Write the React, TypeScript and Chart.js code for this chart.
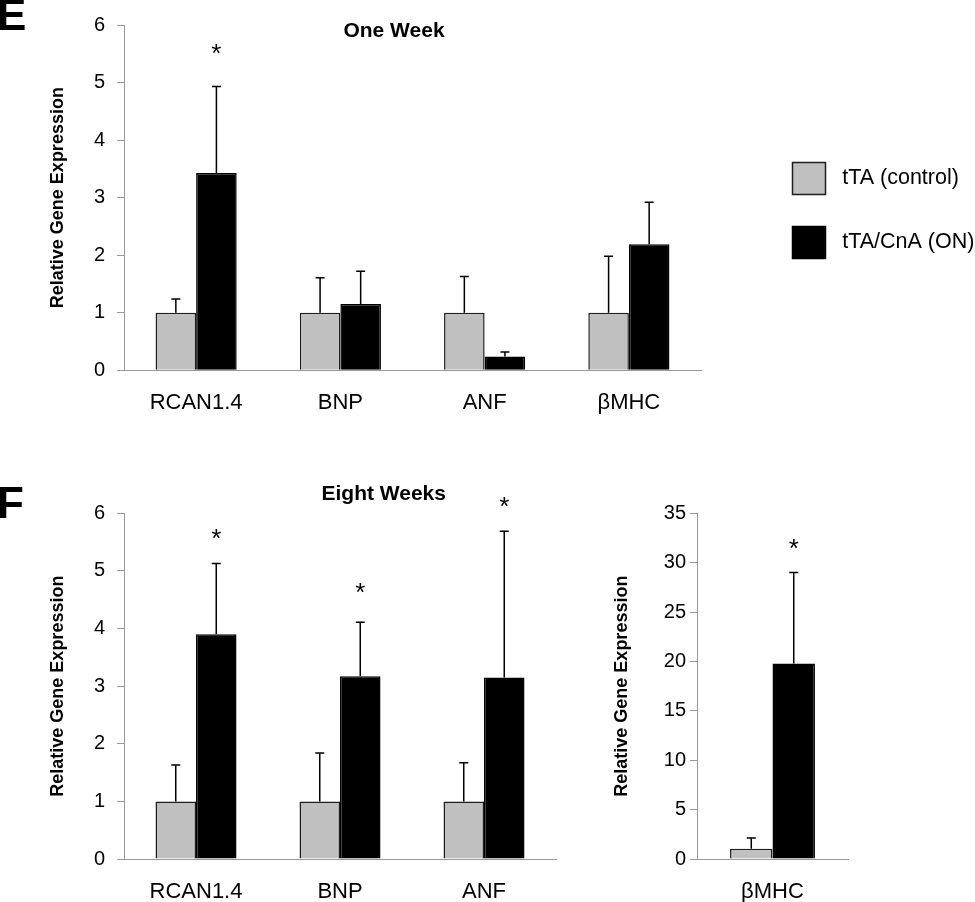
import React, { useEffect, useRef } from 'react';
import { Chart, registerables } from 'chart.js';

Chart.register(...registerables);

const FONT = "'Liberation Sans', Arial, Helvetica, sans-serif";
Chart.defaults.font.family = FONT;
Chart.defaults.color = '#000';

// ---- Data ----
const seriesNames = ['tTA (control)', 'tTA/CnA (ON)'];

// Panel E: One Week
const categoriesOneWeek = ['RCAN1.4', 'BNP', 'ANF', 'βMHC'];
const controlOneWeek = [1, 1, 1, 1];
const controlErrOneWeek = [0.24, 0.61, 0.63, 0.98];
const cnaOneWeek = [3.43, 1.15, 0.24, 2.19];
const cnaErrOneWeek = [1.5, 0.57, 0.08, 0.73];
const starOneWeek = [5.62, null, null, null];
const ticksOneWeek = { min: 0, max: 6, step: 1 };

// Panel F: Eight Weeks (left)
const categoriesEightWeeks = ['RCAN1.4', 'BNP', 'ANF'];
const controlEightWeeks = [1, 1, 1];
const controlErrEightWeeks = [0.63, 0.84, 0.67];
const cnaEightWeeks = [3.9, 3.17, 3.15];
const cnaErrEightWeeks = [1.23, 0.94, 2.54];
const starEightWeeks = [5.68, 4.74, 6.23];
const ticksEightWeeks = { min: 0, max: 6, step: 1 };

// Panel F: Eight Weeks (βMHC)
const categoriesEightWeeksMHC = ['βMHC'];
const controlEightWeeksMHC = [1.05];
const controlErrEightWeeksMHC = [1.08];
const cnaEightWeeksMHC = [19.8];
const cnaErrEightWeeksMHC = [9.2];
const starEightWeeksMHC = [32.1];
const ticksEightWeeksMHC = { min: 0, max: 35, step: 5 };

// ---- Plugins ----
const errorBarPlugin = {
  id: 'errorBars',
  afterDatasetsDraw(chart: any) {
    const ctx = chart.ctx;
    const ys = chart.scales.y;
    chart.data.datasets.forEach((ds: any, di: number) => {
      const errs = ds.errors;
      if (!errs) return;
      const meta = chart.getDatasetMeta(di);
      meta.data.forEach((el: any, i: number) => {
        const v = ds.data[i];
        const e = errs[i];
        if (v == null || e == null) return;
        const x = el.x;
        const y0 = ys.getPixelForValue(v);
        const y1 = ys.getPixelForValue(v + e);
        ctx.save();
        ctx.strokeStyle = '#000';
        ctx.lineWidth = 1.5;
        ctx.beginPath();
        ctx.moveTo(x, y0);
        ctx.lineTo(x, y1);
        ctx.moveTo(x - 4.5, y1);
        ctx.lineTo(x + 4.5, y1);
        ctx.stroke();
        ctx.restore();
      });
    });
  },
};

const starPlugin = {
  id: 'stars',
  afterDraw(chart: any) {
    const ctx = chart.ctx;
    const ys = chart.scales.y;
    chart.data.datasets.forEach((ds: any, di: number) => {
      const stars = ds.stars;
      if (!stars) return;
      const meta = chart.getDatasetMeta(di);
      meta.data.forEach((el: any, i: number) => {
        const s = stars[i];
        if (s == null) return;
        ctx.save();
        ctx.font = `26px ${FONT}`;
        ctx.fillStyle = '#000';
        ctx.textAlign = 'center';
        ctx.textBaseline = 'alphabetic';
        ctx.fillText('*', el.x, ys.getPixelForValue(s) + 15);
        ctx.restore();
      });
    });
  },
};

type TextItem = { text: string; x: number; y: number; font: string; align: CanvasTextAlign };
const textPlugin = (items: TextItem[]) => ({
  id: 'panelText',
  afterDraw(chart: any) {
    const ctx = chart.ctx;
    ctx.save();
    ctx.fillStyle = '#000';
    ctx.textBaseline = 'alphabetic';
    items.forEach((it) => {
      ctx.font = it.font;
      ctx.textAlign = it.align;
      ctx.fillText(it.text, it.x, it.y);
    });
    ctx.restore();
  },
});

const legendPlacer = (boxX: number, boxY: number) => ({
  id: 'legendPlacer',
  beforeDraw(chart: any) {
    const lg = chart.legend;
    if (!lg) return;
    const pad = lg.options.labels.padding;
    lg.left = boxX - pad;
    lg.top = boxY - pad;
    lg.right = chart.width;
    lg.bottom = lg.top + 300;
    lg.width = lg.right - lg.left;
    lg.height = 300;
  },
});

// ---- Config builder ----
type PanelSpec = {
  categories: string[];
  control: number[];
  controlErr: number[];
  cna: number[];
  cnaErr: number[];
  stars: (number | null)[];
  ticks: { min: number; max: number; step: number };
  height: number;
  area: { left: number; top: number; right: number; bottom: number };
  titlePad: number;
  tickPad: number;
  legend: boolean;
  texts: TextItem[];
};

function buildConfig(p: PanelSpec, canvasWidth: number): any {
  const plugins: any[] = [errorBarPlugin, starPlugin, textPlugin(p.texts)];
  if (p.legend) plugins.push(legendPlacer(792.5, 162.5));
  return {
    type: 'bar',
    data: {
      labels: p.categories,
      datasets: [
        {
          label: seriesNames[0],
          data: p.control,
          errors: p.controlErr,
          backgroundColor: '#c0c0c0',
          borderColor: '#1e1e1e',
          borderWidth: 1.5,
          categoryPercentage: 0.5625,
          barPercentage: 1,
        },
        {
          label: seriesNames[1],
          data: p.cna,
          errors: p.cnaErr,
          stars: p.stars,
          backgroundColor: '#000',
          borderColor: '#000',
          borderWidth: 1.5,
          categoryPercentage: 0.5625,
          barPercentage: 1,
        },
      ],
    },
    options: {
      responsive: false,
      animation: false,
      devicePixelRatio: 1,
      layout: {
        padding: { left: 0, top: p.area.top, right: canvasWidth - p.area.right, bottom: 0 },
      },
      plugins: {
        tooltip: { enabled: false },
        title: { display: false },
        legend: {
          display: p.legend,
          position: 'chartArea',
          align: 'start',
          labels: {
            boxWidth: 33,
            boxHeight: 32,
            padding: 32,
            color: '#000',
            font: { size: 21.5 },
            generateLabels: (chart: any) =>
              (Chart.defaults as any).plugins.legend.labels
                .generateLabels(chart)
                .map((l: any) => ({ ...l, text: ' ' + l.text })),
          },
        },
      },
      scales: {
        x: {
          grid: { display: false, drawTicks: false },
          border: { display: true, color: '#999', width: 1 },
          ticks: { color: '#000', font: { size: 22 }, padding: 19.5, maxRotation: 0 },
          afterFit: (s: any) => {
            s.height = p.height - p.area.bottom;
          },
        },
        y: {
          min: p.ticks.min,
          max: p.ticks.max,
          ticks: { stepSize: p.ticks.step, color: '#000', font: { size: 20 }, padding: p.tickPad },
          grid: { drawOnChartArea: false, drawTicks: true, tickLength: 7, color: '#999' },
          border: { display: true, color: '#999', width: 1 },
          title: {
            display: true,
            text: 'Relative Gene Expression',
            color: '#000',
            font: { size: 18, weight: 'bold' },
            padding: { top: p.titlePad, bottom: 0 },
          },
          afterFit: (s: any) => {
            s.width = p.area.left;
          },
        },
      },
    },
    plugins,
  };
}

function Panel({ left, top, width, height, spec }: { left: number; top: number; width: number; height: number; spec: PanelSpec }) {
  const ref = useRef<HTMLCanvasElement | null>(null);
  useEffect(() => {
    if (!ref.current) return;
    const chart = new Chart(ref.current, buildConfig(spec, width));
    return () => chart.destroy();
  }, []);
  return (
    <canvas
      ref={ref}
      width={width}
      height={height}
      style={{ position: 'absolute', left, top, width, height, display: 'block' }}
    />
  );
}

const specOneWeek: PanelSpec = {
  categories: categoriesOneWeek,
  control: controlOneWeek,
  controlErr: controlErrOneWeek,
  cna: cnaOneWeek,
  cnaErr: cnaErrOneWeek,
  stars: starOneWeek,
  ticks: ticksOneWeek,
  height: 440,
  area: { left: 124, top: 25, right: 701, bottom: 370.3 },
  titlePad: 47,
  tickPad: 12,
  legend: true,
  texts: [
    { text: 'E', x: -3, y: 30, font: `bold 44px ${FONT}`, align: 'left' },
    { text: 'One Week', x: 394, y: 36.7, font: `bold 21px ${FONT}`, align: 'center' },
  ],
};

const specEightWeeks: PanelSpec = {
  categories: categoriesEightWeeks,
  control: controlEightWeeks,
  controlErr: controlErrEightWeeks,
  cna: cnaEightWeeks,
  cnaErr: cnaErrEightWeeks,
  stars: starEightWeeks,
  ticks: ticksEightWeeks,
  height: 442,
  area: { left: 124, top: 53.3, right: 556, bottom: 399 },
  titlePad: 47,
  tickPad: 12,
  legend: false,
  texts: [
    { text: 'F', x: -3, y: 58.3, font: `bold 44px ${FONT}`, align: 'left' },
    { text: 'Eight Weeks', x: 383.7, y: 40, font: `bold 21px ${FONT}`, align: 'center' },
  ],
};

const specEightWeeksMHC: PanelSpec = {
  categories: categoriesEightWeeksMHC,
  control: controlEightWeeksMHC,
  controlErr: controlErrEightWeeksMHC,
  cna: cnaEightWeeksMHC,
  cnaErr: cnaErrEightWeeksMHC,
  stars: starEightWeeksMHC,
  ticks: ticksEightWeeksMHC,
  height: 442,
  area: { left: 117, top: 53.3, right: 268, bottom: 399 },
  titlePad: 31,
  tickPad: 4,
  legend: false,
  texts: [],
};

export default function App() {
  return (
    <div
      style={{
        position: 'absolute',
        left: 0,
        top: 0,
        width: 975,
        height: 902,
        background: '#fff',
        overflow: 'hidden',
      }}
    >
      <Panel left={0} top={0} width={975} height={440} spec={specOneWeek} />
      <Panel left={0} top={460} width={580} height={442} spec={specEightWeeks} />
      <Panel left={580} top={460} width={395} height={442} spec={specEightWeeksMHC} />
    </div>
  );
}
